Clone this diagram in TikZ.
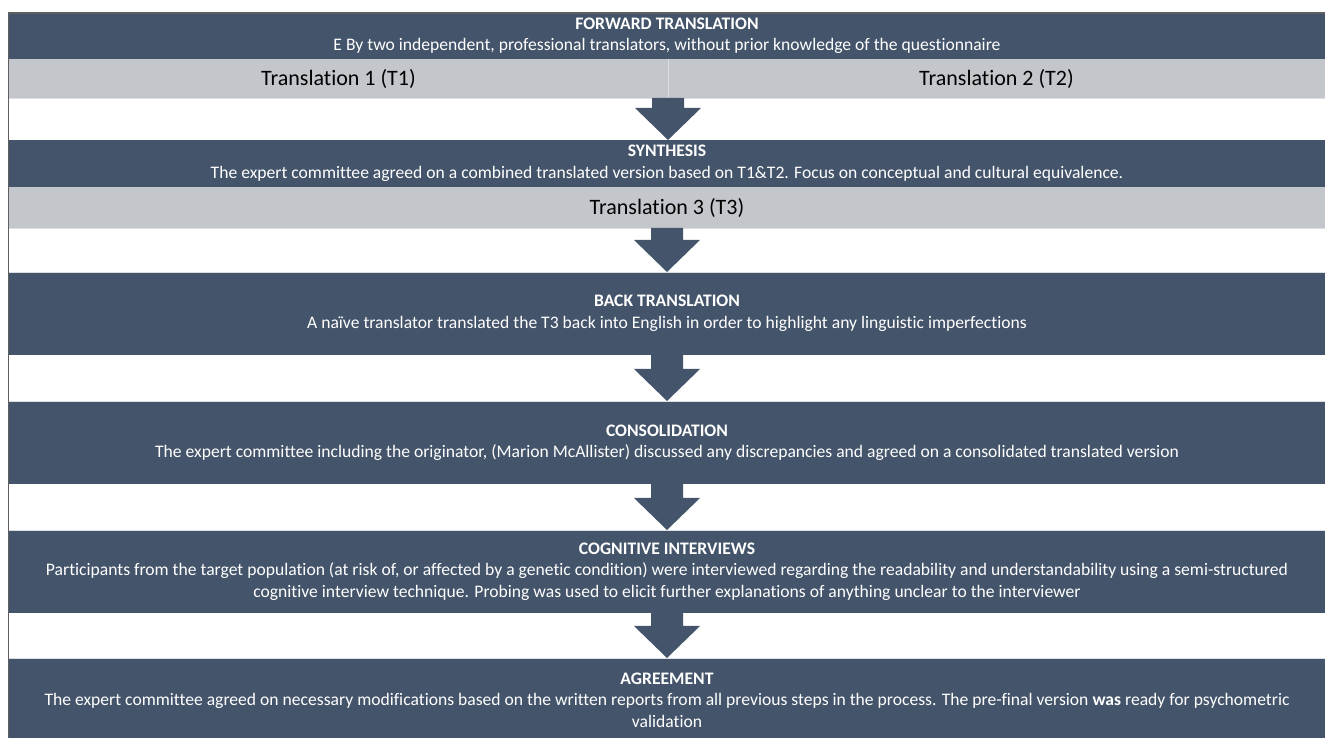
\documentclass[tikz,border=0pt]{standalone}
\usepackage{fontspec}
\setmainfont[Ligatures={NoCommon}]{Carlito}
\usetikzlibrary{calc}
\definecolor{bandblue}{HTML}{44546A}
\definecolor{bandgray}{HTML}{C3C6CB}
\definecolor{framegray}{HTML}{5F5F5F}
\definecolor{seplight}{HTML}{DCDEE1}
\newcommand{\bandfont}{\fontsize{17.6}{21.5}\selectfont}
\newcommand{\labfont}{\fontsize{22}{26}\selectfont}
\newcommand{\blockarrow}[2]{%
  \fill[flow] let \p1=(#1), \p2=(#2) in
    (\x1-16pt,\y1) -- (\x1+16pt,\y1) -- (\x1+16pt,\y2+32pt) -- (\x1+33pt,\y2+32pt)
    -- (\x1,\y2) -- (\x1-33pt,\y2+32pt) -- (\x1-16pt,\y2+32pt) -- cycle;}
\begin{document}
\begin{tikzpicture}[x=1pt,y=1pt,
  band/.style={rectangle, fill=bandblue, text=white, inner sep=0pt, outer sep=0pt,
    anchor=north west, minimum width=1316pt, align=center, font=\bandfont},
  subband/.style={rectangle, fill=bandgray, text=black, inner sep=0pt, outer sep=0pt,
    anchor=north west, font=\labfont},
  flow/.style={fill=bandblue},
  sep/.style={draw=seplight, line width=0.8pt},
  frame/.style={draw=framegray, line width=1.5pt}]
\useasboundingbox (0,0) rectangle (1325,738);
\fill[white] (0,0) rectangle (1325,738);

% bands
\node[band, minimum height=46pt] (fwd) at (9,725)
  {\textbf{FORWARD TRANSLATION}\\E By two independent, professional translators, without prior knowledge of the questionnaire};
\node[subband, minimum width=659pt, minimum height=39pt] (t1) at (9,679) {Translation 1 (T1)};
\node[subband, minimum width=657pt, minimum height=39pt] (t2) at (668,679) {Translation 2 (T2)};
\node[band, minimum height=47pt] (syn) at (9,598)
  {\textbf{SYNTHESIS}\\The expert committee agreed on a combined translated version based on T1\&T2. Focus on conceptual and cultural equivalence.};
\node[subband, minimum width=1316pt, minimum height=41pt] (t3) at (9,551) {Translation 3 (T3)};
\node[band, minimum height=83pt] (back) at (9,466)
  {\textbf{BACK TRANSLATION}\\A naïve translator translated the T3 back into English in order to highlight any linguistic imperfections};
\node[band, minimum height=83pt] (cons) at (9,337)
  {\textbf{CONSOLIDATION}\\The expert committee including the originator, (Marion McAllister) discussed any discrepancies and agreed on a consolidated translated version};
\node[band, minimum height=83pt] (cog) at (9,208)
  {\textbf{COGNITIVE INTERVIEWS}\\Participants from the target population (at risk of, or affected by a genetic condition) were interviewed regarding the readability and understandability using a semi-structured\\cognitive interview technique. Probing was used to elicit further explanations of anything unclear to the interviewer};
\node[band, minimum height=84pt] (agr) at (9,80)
  {\textbf{AGREEMENT}\\The expert committee agreed on necessary modifications based on the written reports from all previous steps in the process. The pre-final version \textbf{was} ready for psychometric\\validation};

% separators
\draw[sep] (t1.north east) -- (t1.south east);
\draw[sep] (t1.south west) -- (t2.south east);
\draw[sep] (t3.south west) -- (t3.south east);
\draw[sep] (back.north west) -- (back.north east);
\draw[sep] (cons.north west) -- (cons.north east);
\draw[sep] (cog.north west) -- (cog.north east);
\draw[sep] (agr.north west) -- (agr.north east);

% block arrows
\blockarrow{t1.south east}{syn.north}
\blockarrow{t3.south}{back.north}
\blockarrow{back.south}{cons.north}
\blockarrow{cons.south}{cog.north}
\blockarrow{cog.south}{agr.north}

% frame
\draw[frame] (8.5,0) -- (8.5,725) -- (1325,725);
\end{tikzpicture}
\end{document}
